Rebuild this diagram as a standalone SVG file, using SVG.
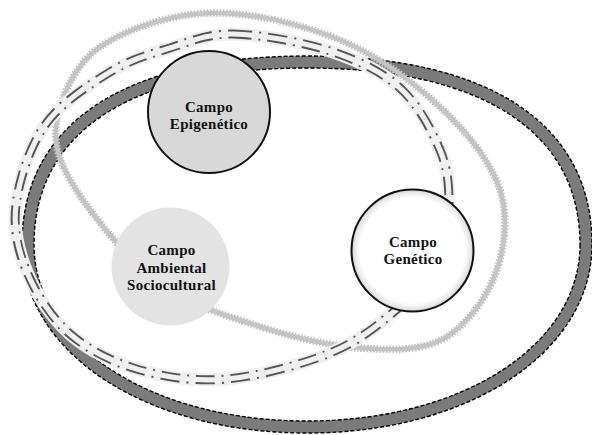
<svg xmlns="http://www.w3.org/2000/svg" width="592" height="435" viewBox="0 0 592 435">
<style>
.band{fill:none;stroke:#7b7b7b;stroke-width:12}
.bedge{fill:none;stroke:#000;stroke-width:1.4;stroke-dasharray:4 2}
.zz1{fill:none;stroke:#c4c4c4;stroke-width:4.5}
.zz2{fill:none;stroke:#c4c4c4;stroke-width:7.5;stroke-dasharray:1.6 1.6}
.dd0{fill:none;stroke:#f0f0f0;stroke-width:13}
.dd1{fill:none;stroke:#555;stroke-width:9;stroke-dasharray:19 7 2 7}
.dd2{fill:none;stroke:#f0f0f0;stroke-width:5.2}
.lbl{font-family:"Liberation Serif","Times New Roman",serif;font-weight:bold;font-size:15px;fill:#111;text-anchor:middle;letter-spacing:0.3px}
</style>
<defs>
<radialGradient id="gw" cx="50%" cy="50%" r="50%">
<stop offset="0.86" stop-color="#ffffff"/>
<stop offset="0.96" stop-color="#e6e6e6"/>
<stop offset="1" stop-color="#c4c4c4"/>
</radialGradient>
</defs>
<rect width="592" height="435" fill="#fff"/>
<g id="rings">
<g id="ring-outer">
<path class="band" d="M586,244.5 C586,348.5 466,427 307,427 C148,427 28,348.5 28,244.5 C28,127.7 128.4,62 307,62 C485.6,62 586,127.7 586,244.5 Z"/>
<path class="bedge" d="M592,244.5 C592,351.9 469.5,433 307,433 C144.5,433 22,351.9 22,244.5 C22,123.9 124.6,56 307,56 C489.4,56 592,123.9 592,244.5 Z"/>
<path class="bedge" d="M580,244.5 C580,345.1 462.6,421 307,421 C151.4,421 34,345.1 34,244.5 C34,131.5 132.3,68 307,68 C481.7,68 580,131.5 580,244.5 Z"/>
</g>
<g id="ring-zigzag">
<path class="zz1" d="M210,13 C250,11.8 301.5,24.2 340,40 C378.5,55.8 414.3,83 441,108 C467.7,133 491,162.2 500,190 C509,217.8 504.5,250.2 495,275 C485.5,299.8 465.5,326.8 443,339 C420.5,351.2 390.8,350.2 360,348 C329.2,345.8 291.7,337 258,326 C224.3,315 188.5,305 158,282 C127.5,259 91.8,215 75,188 C58.2,161 52.8,143.5 57,120 C61.2,96.5 74.5,64.8 100,47 C125.5,29.2 170,14.2 210,13 Z"/>
<path class="zz2" d="M210,13 C250,11.8 301.5,24.2 340,40 C378.5,55.8 414.3,83 441,108 C467.7,133 491,162.2 500,190 C509,217.8 504.5,250.2 495,275 C485.5,299.8 465.5,326.8 443,339 C420.5,351.2 390.8,350.2 360,348 C329.2,345.8 291.7,337 258,326 C224.3,315 188.5,305 158,282 C127.5,259 91.8,215 75,188 C58.2,161 52.8,143.5 57,120 C61.2,96.5 74.5,64.8 100,47 C125.5,29.2 170,14.2 210,13 Z"/>
</g>
<g id="ring-dashdot">
<path class="dd0" d="M233,34 C259.7,34.5 302.2,42 330,51 C357.8,60 381.7,71.5 400,88 C418.3,104.5 431.8,130.5 440,150 C448.2,169.5 449,186.7 449,205 C449,223.3 448.8,242.5 440,260 C431.2,277.5 414.3,294.5 396,310 C377.7,325.5 358.2,341.5 330,353 C301.8,364.5 258.7,376.2 227,379 C195.3,381.8 166.2,377.5 140,370 C113.8,362.5 88.8,350.3 70,334 C51.2,317.7 36,293.5 27,272 C18,250.5 13,229.5 16,205 C19,180.5 29.3,147.2 45,125 C60.7,102.8 89.2,84.8 110,72 C130.8,59.2 149.5,54.3 170,48 C190.5,41.7 206.3,33.5 233,34 Z"/>
<path class="dd1" d="M233,34 C259.7,34.5 302.2,42 330,51 C357.8,60 381.7,71.5 400,88 C418.3,104.5 431.8,130.5 440,150 C448.2,169.5 449,186.7 449,205 C449,223.3 448.8,242.5 440,260 C431.2,277.5 414.3,294.5 396,310 C377.7,325.5 358.2,341.5 330,353 C301.8,364.5 258.7,376.2 227,379 C195.3,381.8 166.2,377.5 140,370 C113.8,362.5 88.8,350.3 70,334 C51.2,317.7 36,293.5 27,272 C18,250.5 13,229.5 16,205 C19,180.5 29.3,147.2 45,125 C60.7,102.8 89.2,84.8 110,72 C130.8,59.2 149.5,54.3 170,48 C190.5,41.7 206.3,33.5 233,34 Z"/>
<path class="dd2" d="M233,34 C259.7,34.5 302.2,42 330,51 C357.8,60 381.7,71.5 400,88 C418.3,104.5 431.8,130.5 440,150 C448.2,169.5 449,186.7 449,205 C449,223.3 448.8,242.5 440,260 C431.2,277.5 414.3,294.5 396,310 C377.7,325.5 358.2,341.5 330,353 C301.8,364.5 258.7,376.2 227,379 C195.3,381.8 166.2,377.5 140,370 C113.8,362.5 88.8,350.3 70,334 C51.2,317.7 36,293.5 27,272 C18,250.5 13,229.5 16,205 C19,180.5 29.3,147.2 45,125 C60.7,102.8 89.2,84.8 110,72 C130.8,59.2 149.5,54.3 170,48 C190.5,41.7 206.3,33.5 233,34 Z"/>
</g>
</g>
<g id="node-epigenetico">
<circle cx="209" cy="112" r="61" fill="#d8d8d8" stroke="#111" stroke-width="2"/>
<text class="lbl" x="209" y="112">Campo</text>
<text class="lbl" x="209" y="129">Epigenético</text>
</g>
<g id="node-ambiental">
<circle cx="170.5" cy="266.5" r="59" fill="#e3e3e3"/>
<text class="lbl" x="171.5" y="255">Campo</text>
<text class="lbl" x="171.5" y="272.5">Ambiental</text>
<text class="lbl" x="171.5" y="290">Sociocultural</text>
</g>
<g id="node-genetico">
<circle cx="412.5" cy="250.5" r="61" fill="url(#gw)" stroke="#111" stroke-width="2"/>
<text class="lbl" x="413" y="247">Campo</text>
<text class="lbl" x="413" y="263.5">Genético</text>
</g>
</svg>
